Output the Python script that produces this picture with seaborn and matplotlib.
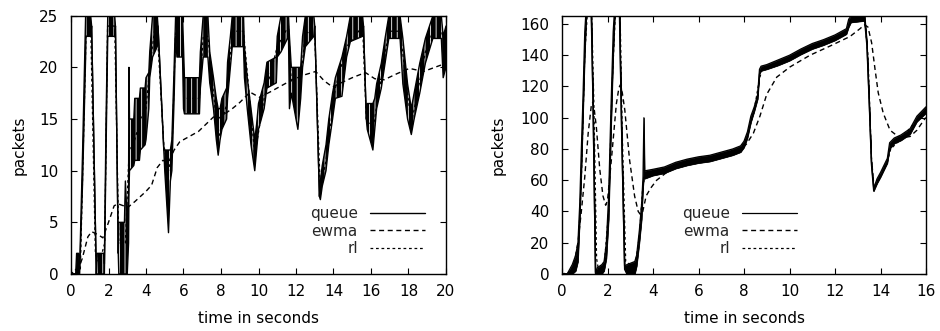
import matplotlib
matplotlib.use("Agg")
import matplotlib.pyplot as plt
import seaborn as sns

# ---------------- left panel data (time in s, packets) ----------------
q1_t = [0.0, 0.25, 0.3, 0.4, 0.46, 0.62, 0.78, 0.80, 1.05, 1.1, 1.35, 1.4, 1.75, 1.78,
        1.87, 1.96, 2.33, 2.37, 2.52, 2.55, 2.85, 2.9, 3.0, 3.07, 3.09, 3.12, 3.35, 3.4, 3.65, 3.7,
        3.95, 4.0, 4.15, 4.2, 4.35, 4.6, 4.64, 4.95, 5.0, 5.2, 5.3, 5.38, 5.5, 5.58, 5.65,
        5.95, 6.0, 6.05, 6.85, 6.9, 7.05, 7.3, 7.4, 7.6, 7.75, 7.85, 7.95, 8.05, 8.3, 8.35,
        8.5, 8.6, 9.2, 9.25, 9.4, 9.6, 9.8, 9.9, 10.0, 10.3, 10.45, 10.95, 11.0, 11.2, 11.6,
        11.65, 11.75, 12.1, 12.25, 12.35, 12.5, 12.95, 13.0, 13.25, 13.3, 13.4, 13.6, 13.75,
        13.95, 14.1, 14.45, 14.7, 14.9, 15.55, 15.6, 15.75, 15.8, 16.1, 16.2, 16.3, 16.55, 16.75,
        16.95, 17.55, 17.7, 17.95, 18.15, 18.3, 18.6, 18.9, 19.3, 19.75, 19.85, 20.0]
q1_lo = [0, 0, 0, 0, 0, 9, 21, 23, 23, 24, 0, 0, 0, 0,
         12, 23, 23, 24, 2, 0, 0, 0, 0, 3, 8, 10, 10.5, 11, 11, 12,
         12.5, 13, 16, 19, 21, 22, 24, 12, 10, 4, 9, 10, 17, 23, 21,
         21, 16, 15.5, 15.5, 18, 21, 21, 18.5, 16, 13, 11.5, 13, 14, 15, 17,
         20, 22, 22, 19, 16, 12.5, 10, 12, 14, 16, 18, 18.5, 21, 21.5, 23,
         16, 17.5, 14, 17, 20, 22, 23, 24, 7.5, 7.2, 8.5, 10, 12.5,
         15, 17, 17.2, 21, 22.5, 23, 24, 15, 14, 12, 14, 16, 18, 20.4,
         22.8, 22.8, 18.4, 15, 13.5, 15, 17.5, 20.4, 22.8, 22.8, 19, 20]
q1_hi = [0, 0, 2, 2, 0.5, 12, 25, 25, 25, 24, 0, 2, 2, 1,
         15, 25, 25, 24, 2, 5, 5, 9, 5, 8, 20, 15, 15, 17, 17, 18,
         18, 19, 19.5, 21.5, 25, 25, 24, 12, 12, 12, 12, 13, 20, 25, 25,
         25, 22, 19, 19, 21.5, 25, 25, 21.5, 19, 17, 16, 16, 17, 18, 20.5,
         23, 25, 25, 22, 19, 16, 13, 14.5, 16.5, 18.5, 20.5, 21, 23, 25, 25,
         23, 20, 20, 20, 23, 25, 25, 24, 7.5, 9, 10.5, 12.5, 15,
         17.5, 19, 21, 23, 25, 25, 24, 15, 16.5, 16.5, 17, 18.4, 20.4, 22.8,
         25, 25, 22.8, 18.4, 16, 17.5, 20.4, 22.8, 25, 25, 23, 24]

ewma1_t = [0.0, 0.3, 0.6, 0.9, 1.1, 1.45, 1.7, 2.0, 2.3, 2.5, 2.8, 3.0, 3.4, 4.0, 4.3, 4.6,
           4.9, 5.2, 5.5, 5.8, 6.2, 6.8, 7.2, 7.6, 7.9, 8.2, 8.6, 9.0, 9.55, 10.05, 10.6,
           11.2, 11.8, 12.5, 13.05, 13.5, 13.95, 14.4, 15.0, 15.7, 16.2, 16.7, 17.4, 18.05,
           18.8, 19.4, 20.0]
ewma1_v = [0.0, 0.0, 1.5, 3.6, 4.1, 3.8, 3.5, 5.0, 6.6, 6.8, 6.6, 6.4, 7.0, 8.0, 8.6, 10.3,
           11.0, 10.8, 12.0, 12.8, 13.2, 13.8, 14.5, 15.2, 15.1, 15.5, 16.0, 16.6, 17.6, 17.1,
           17.6, 18.2, 18.8, 19.3, 19.6, 18.7, 18.1, 18.5, 19.0, 19.5, 18.9, 18.8, 19.4, 19.9,
           19.6, 20.0, 20.4]

rl1_t = [0, 0.3, 0.5, 0.8, 1.05, 1.3, 1.5, 1.8, 1.95, 2.33, 2.55, 2.9, 3.1, 3.4, 3.7, 4.0,
         4.2, 4.45, 4.6, 4.95, 5.2, 5.38, 5.58, 5.95, 6.05, 6.85, 7.05, 7.3, 7.6, 7.85, 8.3,
         8.6, 9.2, 9.8, 10.3, 11.0, 11.6, 11.75, 12.25, 12.5, 13.0, 13.3, 13.6, 14.1, 14.7,
         15.55, 15.75, 16.1, 16.55, 16.95, 17.55, 18.15, 18.9, 19.3, 19.75, 20.0]
rl1_v = [0, 0.5, 0.5, 23, 24, 2, 1, 3, 24, 24, 3, 3, 12, 13, 15, 16,
         20, 23.5, 23.5, 12.5, 10, 11.5, 23.5, 23, 17, 17, 23, 23, 17.5, 13, 16.5,
         23.5, 23.5, 11.5, 17, 22, 24, 18.5, 18.5, 23.5, 23, 8, 11, 18, 22,
         24, 15, 14, 19, 23.5, 23.5, 14.5, 21.5, 23.5, 23.5, 22]

# ---------------- right panel data ----------------
q2_t = [0.0, 0.25, 0.3, 0.45, 0.6, 0.7, 0.78, 0.85, 0.92, 1.0, 1.07, 1.28, 1.36, 1.47, 1.55,
        1.75, 1.85, 1.95, 2.05, 2.15, 2.25, 2.32, 2.52, 2.62, 2.75, 2.85, 3.2, 3.28, 3.4,
        3.5, 3.56, 3.6, 3.63, 4.0, 4.5, 5.0, 5.5, 6.0, 6.5, 7.0, 7.5, 7.85, 8.0, 8.15, 8.3,
        8.45, 8.6, 8.68, 8.75, 9.0, 9.5, 10.0, 10.5, 11.0, 11.5, 12.0, 12.5, 12.6, 12.7,
        13.3, 13.4, 13.5, 13.6, 13.7, 13.85, 14.0, 14.3, 14.4, 14.6, 14.9, 15.3, 15.6, 16.0]
q2_lo = [0, 0, 0, 0, 2, 8, 35, 65, 100, 140, 165, 168, 110, 0, 0,
         0, 2, 10, 35, 90, 140, 165, 168, 90, 3, 0, 0, 5, 20,
         35, 55, 62, 61, 63, 64.5, 67.5, 69.5, 71, 72, 74, 76, 78, 81, 87, 97,
         104, 112, 128, 130, 131, 133.5, 136.5, 140.5, 144, 146.5, 149.5, 153.5, 158, 161,
         162, 146, 110, 70, 53, 58, 62, 71, 80, 83.5, 85.5, 89.5, 97.5, 103]
q2_hi = [0, 0, 2, 6, 12, 20, 45, 80, 112, 155, 172, 175, 112, 1, 4,
         6, 8, 20, 50, 105, 155, 172, 175, 92, 5, 6, 8, 12, 28,
         45, 62, 100, 66, 67, 68.5, 71.5, 73.5, 75, 76, 78, 80, 82, 85, 91, 101,
         107, 115, 131, 133, 134, 137, 140, 144, 147.5, 150, 153, 157, 163, 165,
         166, 149, 112, 72, 55, 61, 65, 74, 84, 87, 89, 93, 101, 107]

ewma2_t = [0, 0.3, 0.5, 0.7, 0.85, 1.0, 1.15, 1.29, 1.35, 1.42, 1.51, 1.66, 1.8, 1.92, 2.0,
           2.17, 2.39, 2.5, 2.56, 2.65, 2.76, 2.97, 3.19, 3.35, 3.45, 3.55, 3.7, 3.9, 4.16,
           4.6, 5.04, 5.5, 6.21, 7.0, 7.82, 8.1, 8.41, 8.7, 9.0, 9.44, 10.02, 10.9, 11.8,
           12.66, 13.1, 13.3, 13.45, 13.61, 13.76, 13.9, 14.12, 14.42, 14.86, 15.3, 15.6,
           15.96, 16.0]
ewma2_v = [0, 0, 4, 20, 40, 62, 90, 108, 110, 105, 94, 67, 50, 44, 47,
           73, 109, 119, 121, 116, 105, 73, 50, 40, 38, 40, 50, 55, 60,
           65, 68.5, 70.5, 73, 75.5, 79.5, 83, 90, 101, 115, 126, 132.5, 140, 146,
           152, 157, 159.5, 158, 148, 131, 116, 103, 92, 87, 88, 92,
           99.6, 100]

rl2_t = [0, 0.5, 0.7, 0.85, 1.0, 1.12, 1.3, 1.4, 1.52, 1.6, 1.85, 2.05, 2.2, 2.35, 2.55, 2.65,
         2.8, 3.2, 3.4, 3.56, 3.7, 4.5, 5.5, 6.5, 7.5, 7.85, 8.15, 8.45, 8.68, 8.8, 9.5, 10.5,
         11.5, 12.5, 12.7, 13.3, 13.45, 13.6, 13.72, 14.0, 14.3, 14.45, 14.9, 15.6, 16.0]
rl2_v = [0, 2, 12, 60, 140, 168, 170, 110, 10, 3, 5, 40, 120, 168, 170, 90,
         8, 4, 24, 58, 63, 66, 71, 73.5, 77.5, 79.5, 88, 105, 125, 131, 134.5, 141.5,
         147.5, 154.5, 162, 163, 140, 75, 55, 63, 72, 80, 86.5, 98.5, 104.5]

x1_ticks = list(range(0, 21, 2))
y1_ticks = list(range(0, 26, 5))
x2_ticks = list(range(0, 17, 2))
y2_ticks = list(range(0, 161, 20))

# ---------------- style ----------------
sns.set_theme(style="ticks")
FS = 11
plt.rcParams["font.family"] = ["DejaVu Sans"]
plt.rcParams["font.size"] = FS
plt.rcParams["hatch.linewidth"] = 0.6

fig = plt.figure(figsize=(9.4, 3.31), dpi=100)
H = 331.0
W = 940.0
ax1 = fig.add_axes([71 / W, 1 - 274 / H, 375 / W, 258.3 / H])
ax2 = fig.add_axes([562 / W, 1 - 274 / H, 364 / W, 258.3 / H])

EWMA_LS = (0, (3.6, 2.6))
RL_LS = (0, (2.2, 2.2))


def draw(ax, qt, qlo, qhi, et, ev, rt, rv, hatch, qlw):
    if hatch:
        ax.fill_between(qt, qlo, qhi, facecolor="black", edgecolor="white",
                        hatch=hatch, lw=0, zorder=2)
    else:
        ax.fill_between(qt, qlo, qhi, color="black", lw=0.5, zorder=2)
    sns.lineplot(x=qt, y=qhi, ax=ax, color="black", lw=qlw, sort=False,
                 estimator=None, zorder=3)
    sns.lineplot(x=qt, y=qlo, ax=ax, color="black", lw=qlw, sort=False,
                 estimator=None, zorder=3)
    sns.lineplot(x=rt, y=rv, ax=ax, color="black", lw=0.9, sort=False,
                 estimator=None, linestyle=RL_LS, zorder=4)
    sns.lineplot(x=et, y=ev, ax=ax, color="black", lw=1.0, sort=False,
                 estimator=None, linestyle=EWMA_LS, zorder=5)
    lines = ax.get_lines()
    h_queue, h_rl, h_ewma = lines[0], lines[2], lines[3]
    ax.legend([h_queue, h_ewma, h_rl], ["queue", "ewma", "rl"],
              markerfirst=False, frameon=False, loc="lower right",
              fontsize=FS, handlelength=3.6, handletextpad=0.8,
              labelspacing=0.15, borderpad=0, borderaxespad=0)


draw(ax1, q1_t, q1_lo, q1_hi, ewma1_t, ewma1_v, rl1_t, rl1_v, "|||", 1.0)
draw(ax2, q2_t, q2_lo, q2_hi, ewma2_t, ewma2_v, rl2_t, rl2_v, None, 0.9)

ax1.legend_.set_bbox_to_anchor(((425 - 71) / 375, (274 - 256) / 258.3), transform=ax1.transAxes)
ax2.legend_.set_bbox_to_anchor(((797 - 562) / 364, (274 - 256) / 258.3), transform=ax2.transAxes)

ax1.set_xlim(0, 20)
ax1.set_ylim(0, 25)
ax1.set_xticks(x1_ticks)
ax1.set_yticks(y1_ticks)
ax2.set_xlim(0, 16)
ax2.set_ylim(0, 165.3)
ax2.set_xticks(x2_ticks)
ax2.set_yticks(y2_ticks)

for ax in (ax1, ax2):
    for s in ax.spines.values():
        s.set_visible(True)
        s.set_color("black")
        s.set_linewidth(1.0)
    ax.tick_params(axis="both", which="both", direction="in", length=4.5, width=0.8,
                   colors="black", top=True, right=True, labelsize=FS)
    ax.tick_params(axis="x", pad=7)
    ax.tick_params(axis="y", pad=9)
    ax.set_xlabel("time in seconds", fontsize=FS, labelpad=9, color="black")

ax1.set_ylabel("packets", fontsize=FS, labelpad=9, color="black")
ax2.set_ylabel("packets", fontsize=FS, labelpad=11, color="black")

fig.savefig("out.png", dpi=100)
